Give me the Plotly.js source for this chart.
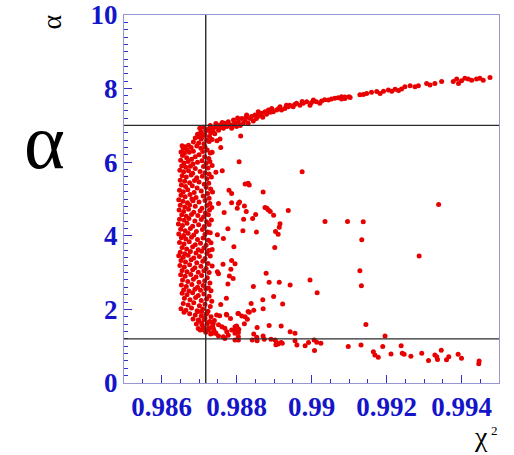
<!DOCTYPE html>
<html><head><meta charset="utf-8">
<script src="https://cdn.plot.ly/plotly-3.0.1.min.js"></script>
<style>
html,body{margin:0;padding:0;background:#fff}
#chart{width:514px;height:455px}
#chart svg text{font-family:'Liberation Serif','Times New Roman',Times,'DejaVu Serif',serif !important}
#chart g.xtick text,#chart g.ytick text{font-weight:bold !important}
</style>
</head><body><div id="chart"></div>
<script>
// Upper branch (alpha rising with chi2)
const upperChi2 = [0.98698,0.98707,0.98716,0.98725,0.98734,0.98738,0.98747,0.98752,0.98756,0.98765,0.98769,0.98774,0.98778,0.98783,0.98787,0.98792,0.98796,0.98800,0.98805,0.98814,0.98818,0.98823,0.98827,0.98831,0.98836,0.98840,0.98849,0.98853,0.98858,0.98862,0.98867,0.98876,0.98885,0.98894,0.98898,0.98907,0.98916,0.98920,0.98929,0.98938,0.98942,0.98951,0.98960,0.98969,0.98978,0.98987,0.98996,0.99005,0.99013,0.99022,0.99027,0.99045,0.99053,0.99062,0.99071,0.99080,0.99089,0.99100,
0.99080,0.99089,0.99103,0.99129,0.99138,0.99147,0.99160,0.99174,0.99183,0.99192,0.99205,0.99214,0.99223,0.99232,0.99240,0.99249,0.99263,0.99276,0.99285,0.99307,0.99316,0.99329,0.99347,0.99378,0.99387,0.99392,0.99400,0.99409,0.99418,0.99427,0.99440,0.99449,0.99458,0.99476,
0.98745,0.98760,0.98790,0.98810,0.98845,0.98870,0.98880,0.98890,0.98912,0.98933,0.98955,0.98975,0.99000,0.99035,0.98730,0.98742,0.98762,0.98803,0.98825,0.98858];
const upperAlpha = [6.69,6.78,6.74,6.87,6.92,6.83,6.97,6.87,7.01,6.92,7.06,6.97,7.10,7.01,6.92,7.15,7.06,6.97,7.10,7.19,7.06,7.15,7.28,7.06,7.19,7.24,7.28,7.19,7.37,7.28,7.33,7.37,7.42,7.46,7.37,7.42,7.51,7.42,7.46,7.51,7.55,7.51,7.60,7.55,7.60,7.64,7.55,7.69,7.64,7.60,7.66,7.69,7.72,7.74,7.75,7.72,7.77,7.78,
7.78,7.73,7.76,7.83,7.84,7.87,7.90,7.92,7.87,7.93,7.96,7.93,7.98,7.95,7.99,8.05,8.08,8.05,8.08,8.14,8.10,8.14,8.19,8.19,8.26,8.14,8.21,8.28,8.26,8.23,8.26,8.28,8.23,8.30,
7.05,6.95,7.02,7.00,7.12,7.22,7.30,7.36,7.45,7.55,7.57,7.65,7.62,7.70,7.00,6.95,7.08,7.20,7.22,7.25];

// Dense vertical cluster near chi2 ~ 0.9865-0.9875
const clusterChi2 = [
0.98702,0.98712,0.98725,0.98738,0.98718,0.98705,0.98731,0.98696,0.98715,0.98728,0.98742,0.98690,0.98706,0.98720,0.98735,0.98685,0.98699,0.98713,0.98727,0.98748,0.98723,0.98709,
0.98655,0.98663,0.98672,0.98658,0.98668,0.98679,0.98652,0.98661,0.98674,0.98685,0.98694,0.98705,0.98716,0.98710,0.98722,0.98730,0.98700,0.98690,0.98656,0.98667,0.98680,0.98715,0.98726,
0.98651,0.98660,0.98671,0.98684,0.98696,0.98708,0.98719,0.98729,0.98654,0.98665,0.98677,0.98690,0.98712,0.98724,0.98735,0.98649,0.98659,0.98672,0.98683,0.98703,0.98716,0.98727,0.98655,0.98666,0.98679,0.98694,0.98709,0.98721,0.98733,0.98650,0.98662,0.98688,
0.98675,0.98700,0.98714,0.98726,0.98653,0.98664,0.98682,0.98695,0.98719,0.98731,0.98648,0.98658,0.98670,0.98687,0.98706,0.98723,0.98736,0.98652,0.98663,0.98676,0.98692,0.98711,0.98727,0.98646,0.98681,
0.98657,0.98669,0.98684,0.98700,0.98716,0.98729,0.98650,0.98662,0.98675,0.98690,0.98708,0.98721,0.98734,0.98647,0.98659,0.98672,0.98686,0.98703,0.98717,0.98728,0.98654,0.98666,0.98680,0.98697,0.98712,0.98725,
0.98648,0.98660,0.98673,0.98689,0.98706,0.98720,0.98733,0.98645,0.98656,0.98668,0.98683,0.98699,0.98714,0.98727,0.98651,0.98663,0.98677,0.98693,0.98709,0.98723,0.98646,0.98659,0.98671,0.98686,0.98716,0.98730,
0.98653,0.98665,0.98680,0.98696,0.98711,0.98725,0.98648,0.98660,0.98674,0.98690,0.98704,0.98719,0.98732,0.98655,0.98667,0.98683,0.98698,0.98713,0.98726,0.98650,0.98662,0.98677,0.98692,0.98707,0.98721,
0.98646,0.98658,0.98671,0.98686,0.98701,0.98716,0.98730,0.98652,0.98664,0.98679,0.98694,0.98710,0.98724,0.98649,0.98661,0.98675,0.98689,0.98705,0.98719,0.98735,0.98655,0.98668,0.98683,0.98698,0.98713,0.98727,
0.98651,0.98663,0.98678,0.98692,0.98707,0.98722,0.98656,0.98670,0.98685,0.98700,0.98715,0.98729,0.98653,0.98666,0.98681,0.98696,0.98711,0.98725,0.98659,0.98673,0.98689,0.98704,0.98718,0.98732,
0.98655,0.98668,0.98683,0.98698,0.98713,0.98727,0.98661,0.98676,0.98691,0.98706,0.98720,0.98734,0.98658,0.98671,0.98686,0.98701,0.98716,0.98730,0.98652,0.98665,0.98680,0.98695,0.98710,0.98724,
0.98660,0.98675,0.98690,0.98706,0.98718,0.98732,0.98684,0.98700,0.98714,0.98727,0.98741,0.98693,0.98709,0.98722,0.98736,0.98698,0.98712,0.98726,0.98740,0.98718,0.98731,0.98745];
const clusterAlpha = [
6.92,6.95,6.90,6.93,6.86,6.83,6.80,6.76,6.74,6.70,6.77,6.66,6.63,6.60,6.62,6.55,6.52,6.50,6.56,6.58,6.88,6.69,
6.45,6.42,6.46,6.37,6.33,6.40,6.28,6.24,6.27,6.30,6.44,6.38,6.41,6.29,6.33,6.25,6.20,6.15,6.18,6.12,6.08,6.15,6.10,
6.05,5.98,6.02,5.95,6.00,6.04,5.97,6.02,5.90,5.86,5.89,5.83,5.88,5.84,5.91,5.78,5.74,5.77,5.70,5.75,5.71,5.68,5.63,5.60,5.65,5.58,5.62,5.55,5.60,5.51,5.48,5.50,
5.44,5.46,5.40,5.43,5.38,5.34,5.36,5.30,5.32,5.27,5.24,5.20,5.25,5.18,5.22,5.15,5.19,5.10,5.06,5.12,5.04,5.08,5.02,4.98,5.00,
4.94,4.90,4.95,4.92,4.96,4.88,4.83,4.78,4.84,4.80,4.75,4.82,4.77,4.70,4.66,4.72,4.64,4.68,4.62,4.70,4.57,4.53,4.58,4.55,4.51,4.57,
4.45,4.42,4.47,4.40,4.44,4.38,4.43,4.32,4.28,4.34,4.26,4.30,4.25,4.31,4.18,4.14,4.20,4.12,4.17,4.10,4.05,4.01,4.07,4.02,4.04,4.08,
3.95,3.91,3.96,3.90,3.94,3.88,3.82,3.78,3.84,3.76,3.80,3.74,3.81,3.68,3.64,3.70,3.62,3.67,3.60,3.55,3.51,3.57,3.53,3.58,3.52,
3.46,3.42,3.47,3.40,3.44,3.38,3.45,3.33,3.29,3.35,3.27,3.31,3.25,3.19,3.15,3.21,3.13,3.17,3.11,3.18,3.06,3.02,3.08,3.01,3.05,3.00,
2.94,2.90,2.95,2.88,2.92,2.86,2.80,2.76,2.82,2.74,2.78,2.72,2.66,2.62,2.68,2.60,2.65,2.58,2.53,2.50,2.55,2.52,2.56,2.51,
2.44,2.40,2.45,2.38,2.42,2.36,2.30,2.26,2.32,2.24,2.28,2.22,2.16,2.12,2.18,2.10,2.14,2.08,2.02,1.98,2.04,1.96,2.01,1.95,
1.92,1.88,1.85,1.82,1.87,1.80,1.74,1.70,1.72,1.66,1.70,1.60,1.57,1.62,1.55,1.48,1.45,1.50,1.42,1.38,1.33,1.36];

// Sparse points inside the band
const scatterChi2 = [0.98811,0.98756,0.98758,0.98735,0.98807,0.98975,0.98745,0.98762,0.98823,0.98831,0.98834,0.98780,0.98787,0.98871,0.98752,0.98787,0.98805,0.98808,0.98821,0.98826,0.98802,0.98767,0.98876,0.98881,0.98885,0.98890,0.98899,0.98938,0.98851,0.98843,0.98819,0.98916,0.98914,0.98904,0.98911,0.99036,0.99096,0.99138,0.99134,0.98853,0.98817,0.98777,0.98749,0.98765,0.98902,0.98793,0.98735,0.98764,0.98787,0.98796,0.98749,0.98752,0.98785,0.98781,0.98791,0.98777,0.98879,0.98887,0.98914,0.98943,0.98996,0.99015,0.99129,0.99133,0.98845,0.98899,0.98923,0.98870,0.98871,0.98839,0.98846,0.98773,0.98758,0.98773,0.98784,0.98804,0.98814,0.98829,0.98834,0.98821,0.99145,0.98855,0.98887,0.98919,0.98943,0.98956,0.98801,0.98806,0.98796,0.99339,0.99287,0.99196];
const scatterAlpha = [6.71,6.63,6.40,6.27,6.01,5.74,5.73,5.77,5.41,5.43,5.38,5.24,5.15,5.19,4.88,4.90,4.88,4.92,4.81,4.66,4.75,4.63,4.77,4.75,4.70,4.66,4.56,4.69,4.58,4.47,4.45,4.33,4.23,4.12,4.04,4.39,4.39,4.38,3.89,4.10,4.14,4.19,4.03,3.93,3.68,3.70,3.63,3.23,3.33,3.24,3.02,2.97,3.09,2.91,2.84,2.69,2.98,2.74,2.74,2.66,2.80,2.45,3.05,2.64,2.62,2.35,2.15,2.26,2.02,2.16,1.98,2.30,2.13,1.87,1.75,1.89,1.82,1.73,1.92,1.61,1.59,1.51,1.56,1.55,1.39,1.35,1.53,1.46,1.41,4.85,3.45,1.28];

// Lower branch (alpha falling with chi2)
const lowerChi2 = [0.98846,0.98854,0.98842,0.98855,0.98871,0.98874,0.98892,0.98903,0.98907,0.98911,0.98919,0.98922,0.98905,0.98956,0.98961,0.98983,0.98992,0.99007,0.99014,0.99025,0.99008,0.99098,
0.99132,0.99165,0.99169,0.99178,0.99190,0.99212,0.99239,0.99242,0.99247,0.99265,0.99294,0.99312,0.99329,0.99334,0.99336,0.99346,0.99360,0.99366,0.99391,0.99400,0.99447,0.99446,
0.98707,0.98721,0.98747,0.98755,0.98774,0.98805,0.98823,0.98831,0.98698,0.98716,0.98729,0.98738,0.98752,0.98761,0.98769,0.98774,0.98787,0.98796,0.98800,0.98805,0.98796,0.98778,0.98765,0.98752,0.98743,0.98734,0.98725,0.98712,0.98703,0.98707,0.98738,0.98805,0.98805,0.98769,0.98698,0.98796];
const lowerAlpha = [1.33,1.24,1.17,1.15,1.28,1.19,1.19,1.17,1.10,1.06,1.10,1.08,1.04,1.15,1.03,1.01,1.10,1.17,1.11,1.08,0.88,0.99,
1.03,0.85,0.76,0.70,0.99,0.79,1.01,0.81,0.78,0.73,0.81,0.61,0.76,0.71,0.64,0.89,0.63,0.71,0.78,0.67,0.60,0.52,
1.94,1.89,1.85,1.83,1.85,1.89,1.80,1.94,1.71,1.76,1.67,1.62,1.58,1.53,1.49,1.39,1.44,1.53,1.55,1.37,1.35,1.30,1.26,1.28,1.35,1.35,1.44,1.49,1.44,1.62,1.49,1.26,1.17,1.21,1.94,1.17];

// Cut lines and axis ticks
const cutAlpha = [7.0, 1.2];
const cutChi2 = [0.98718];
const xTickVals = [0.986, 0.988, 0.990, 0.992, 0.994];
const xTickText = ['0.986', '0.988', '0.99', '0.992', '0.994'];
const yTickVals = [0, 2, 4, 6, 8, 10];
const yTickText = ['0', '2', '4', '6', '8', '10'];

const chi2 = [].concat(upperChi2, clusterChi2, scatterChi2, lowerChi2);
const alpha = [].concat(upperAlpha, clusterAlpha, scatterAlpha, lowerAlpha);

const FAM = "'Liberation Serif', serif";

const trace = {
  type: 'scatter', mode: 'markers', x: chi2, y: alpha, hoverinfo: 'skip',
  marker: {color: 'rgb(232,0,0)', size: 5, line: {width: 0}}
};
const lineStyle = {color: '#2b2b2b', width: 1.4};
const shapes = cutAlpha.map(v => ({type: 'line', xref: 'paper', x0: 0, x1: 1, yref: 'y', y0: v, y1: v, line: lineStyle}))
  .concat(cutChi2.map(v => ({type: 'line', xref: 'x', x0: v, x1: v, yref: 'paper', y0: 0, y1: 1, line: lineStyle})));

function axisStyle() {
  return {
    showline: true, linecolor: 'rgb(150,150,215)', linewidth: 1, mirror: true,
    showgrid: false, zeroline: false, ticks: 'inside', ticklen: 8, tickwidth: 1,
    tickcolor: 'rgb(50,50,200)',
    tickfont: {family: FAM, size: 27, color: 'rgb(20,20,200)', weight: 'bold'}
  };
}
const xaxis = Object.assign(axisStyle(), {
  range: [0.985, 0.995], tickmode: 'array', tickvals: xTickVals, ticktext: xTickText,
  minor: {tickmode: 'linear', tick0: 0.985, dtick: 0.0005, ticks: 'inside', ticklen: 4, tickwidth: 1, tickcolor: 'rgb(50,50,200)', showgrid: false}
});
const yaxis = Object.assign(axisStyle(), {
  range: [0, 10], tickmode: 'array', tickvals: yTickVals, ticktext: yTickText,
  minor: {tickmode: 'linear', tick0: 0, dtick: 0.2, ticks: 'inside', ticklen: 4, tickwidth: 1, tickcolor: 'rgb(50,50,200)', showgrid: false}
});

const layout = {
  width: 514, height: 455,
  margin: {l: 124, r: 15, t: 15, b: 72},
  font: {family: FAM, color: '#000'},
  paper_bgcolor: '#fff', plot_bgcolor: '#fff', showlegend: false,
  xaxis: xaxis, yaxis: yaxis, shapes: shapes,
  annotations: [
    {text: 'α', xref: 'paper', yref: 'paper', x: -0.2133, y: 0.6576, xanchor: 'center', yanchor: 'middle', showarrow: false,
     font: {family: FAM, size: 78, color: '#000'}},
    {text: 'α', xref: 'paper', yref: 'paper', x: -0.1933, y: 0.981, xanchor: 'center', yanchor: 'middle', showarrow: false, textangle: -90,
     font: {family: FAM, size: 28, color: '#000'}},
    {text: 'χ', xref: 'paper', yref: 'paper', x: 0.9533, y: -0.1454, xanchor: 'center', yanchor: 'middle', showarrow: false,
     font: {family: FAM, size: 28, color: '#000'}},
    {text: '2', xref: 'paper', yref: 'paper', x: 0.9867, y: -0.1304, xanchor: 'center', yanchor: 'middle', showarrow: false,
     font: {family: FAM, size: 13, color: '#000'}}
  ]
};

Plotly.newPlot('chart', [trace], layout, {displayModeBar: false, staticPlot: true});
</script></body></html>
